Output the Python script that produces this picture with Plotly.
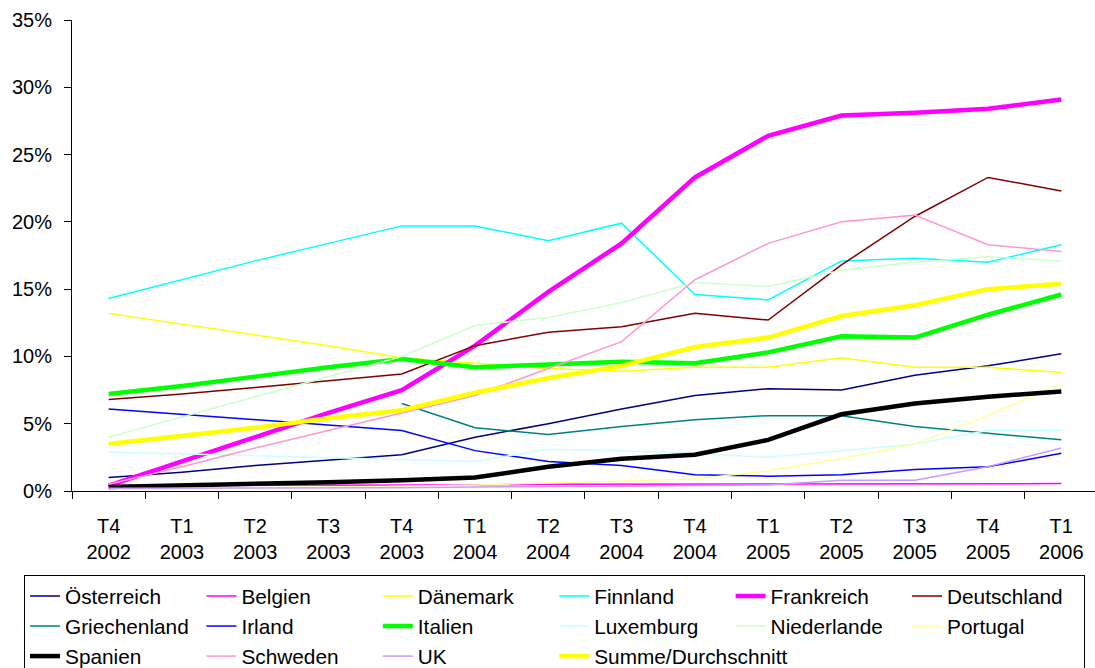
import plotly.graph_objects as go

# Quarter labels (two-line tick text)
quarters = ["T4", "T1", "T2", "T3", "T4", "T1", "T2", "T3", "T4", "T1", "T2", "T3", "T4", "T1"]
years = ["2002", "2003", "2003", "2003", "2003", "2004", "2004", "2004", "2004",
         "2005", "2005", "2005", "2005", "2006"]
categories = [f"{q}<br>{y}" for q, y in zip(quarters, years)]

# Share per country, in percent
oesterreich = [1.0, 1.4, 1.9, 2.3, 2.7, 4.0, 5.0, 6.1, 7.1, 7.6, 7.5, 8.6, 9.3, 10.2]
belgien = [0.4, 0.4, 0.4, 0.45, 0.45, 0.45, 0.5, 0.5, 0.5, 0.5, 0.5, 0.5, 0.5, 0.55]
daenemark = [13.2, 12.4, 11.6, 10.8, 9.9, 9.5, 9.1, 8.9, 9.2, 9.2, 9.9, 9.2, 9.2, 8.8]
finnland = [14.3, 15.7, 17.1, 18.4, 19.7, 19.7, 18.6, 19.9, 14.6, 14.2, 17.1, 17.3, 17.0, 18.3]
frankreich = [0.4, 2.2, 4.0, 5.8, 7.5, 10.8, 14.8, 18.4, 23.3, 26.4, 27.9, 28.1, 28.4, 29.1]
deutschland = [6.8, 7.2, 7.7, 8.2, 8.7, 10.8, 11.8, 12.2, 13.2, 12.7, 16.8, 20.4, 23.3, 22.3]
griechenland = [None, None, None, None, 6.5, 4.7, 4.2, 4.8, 5.3, 5.6, 5.6, 4.8, 4.3, 3.8]
irland = [6.1, 5.7, 5.3, 4.9, 4.5, 3.0, 2.2, 1.9, 1.2, 1.1, 1.2, 1.6, 1.8, 2.8]
italien = [7.2, 7.8, 8.5, 9.2, 9.8, 9.2, 9.4, 9.6, 9.5, 10.3, 11.5, 11.4, 13.1, 14.6]
luxemburg = [2.9, 2.75, 2.6, 2.45, 2.3, 2.2, 3.1, 3.0, 2.8, 2.5, 3.0, 3.5, 4.5, 4.5]
niederlande = [4.0, 5.5, 7.0, 8.5, 10.0, 12.3, 12.9, 14.0, 15.5, 15.2, 16.4, 17.0, 17.4, 17.1]
portugal = [0.1, 0.15, 0.2, 0.3, 0.35, 0.45, 0.6, 0.75, 0.9, 1.5, 2.4, 3.5, 5.6, 8.0]
spanien = [0.3, 0.4, 0.5, 0.65, 0.8, 1.0, 1.8, 2.4, 2.7, 3.8, 5.7, 6.5, 7.0, 7.4]
schweden = [0.5, 1.8, 3.2, 4.5, 5.8, 7.1, 9.1, 11.1, 15.7, 18.4, 20.0, 20.5, 18.3, 17.8]
uk = [0.2, 0.2, 0.2, 0.25, 0.25, 0.3, 0.3, 0.35, 0.4, 0.45, 0.8, 0.8, 1.8, 3.2]
summe = [3.5, 4.1, 4.7, 5.4, 6.0, 7.3, 8.4, 9.3, 10.7, 11.4, 13.0, 13.8, 15.0, 15.4]

THIN = 1.5
THICK = 4.5

series = [
    ("Österreich", oesterreich, "#000080", THIN),
    ("Belgien", belgien, "#FF00FF", THIN),
    ("Dänemark", daenemark, "#FFFF00", THIN),
    ("Finnland", finnland, "#00FFFF", THIN),
    ("Frankreich", frankreich, "#FF00FF", THICK),
    ("Deutschland", deutschland, "#800000", THIN),
    ("Griechenland", griechenland, "#008080", THIN),
    ("Irland", irland, "#0000FF", THIN),
    ("Italien", italien, "#00FF00", THICK),
    ("Luxemburg", luxemburg, "#CCFFFF", THIN),
    ("Niederlande", niederlande, "#CCFFCC", THIN),
    ("Portugal", portugal, "#FFFF99", THIN),
    ("Spanien", spanien, "#000000", THICK),
    ("Schweden", schweden, "#FF99CC", THIN),
    ("UK", uk, "#CC99FF", THIN),
    ("Summe/Durchschnitt", summe, "#FFFF00", THICK),
]

fig = go.Figure()
for name, values, color, width in series:
    fig.add_trace(go.Scatter(
        x=categories, y=values, name=name, mode="lines",
        line=dict(color=color, width=width),
        connectgaps=False,
    ))

FONT = dict(family="Liberation Sans, Arial, sans-serif", size=20, color="black")
LEGEND_FONT = dict(FONT, size=20.8)

fig.update_layout(
    width=1095, height=668,
    margin=dict(l=72, r=0, t=20, b=177, autoexpand=False),
    paper_bgcolor="white", plot_bgcolor="white",
    font=FONT,
    showlegend=True,
    legend=dict(
        orientation="h",
        x=-0.0469, xanchor="left",
        y=-0.1783, yanchor="top",
        entrywidth=131.4, entrywidthmode="pixels",
        bordercolor="black", borderwidth=1,
        bgcolor="white",
        font=LEGEND_FONT,
        traceorder="normal",
    ),
    xaxis=dict(
        type="category",
        range=[-0.5, 13.46],
        tickson="boundaries",
        ticks="outside", ticklen=7, tickcolor="black",
        ticklabelstandoff=17,
        showline=True, linecolor="black", linewidth=1,
        showgrid=False, zeroline=False,
        tickfont=FONT,
    ),
    yaxis=dict(
        range=[0, 35],
        tickmode="linear", tick0=0, dtick=5,
        ticksuffix="%",
        ticks="outside", ticklen=7, tickcolor="black",
        ticklabelstandoff=8,
        showline=True, linecolor="black", linewidth=1,
        showgrid=False, zeroline=False,
        tickfont=FONT,
    ),
)

fig.write_html("out.html")
